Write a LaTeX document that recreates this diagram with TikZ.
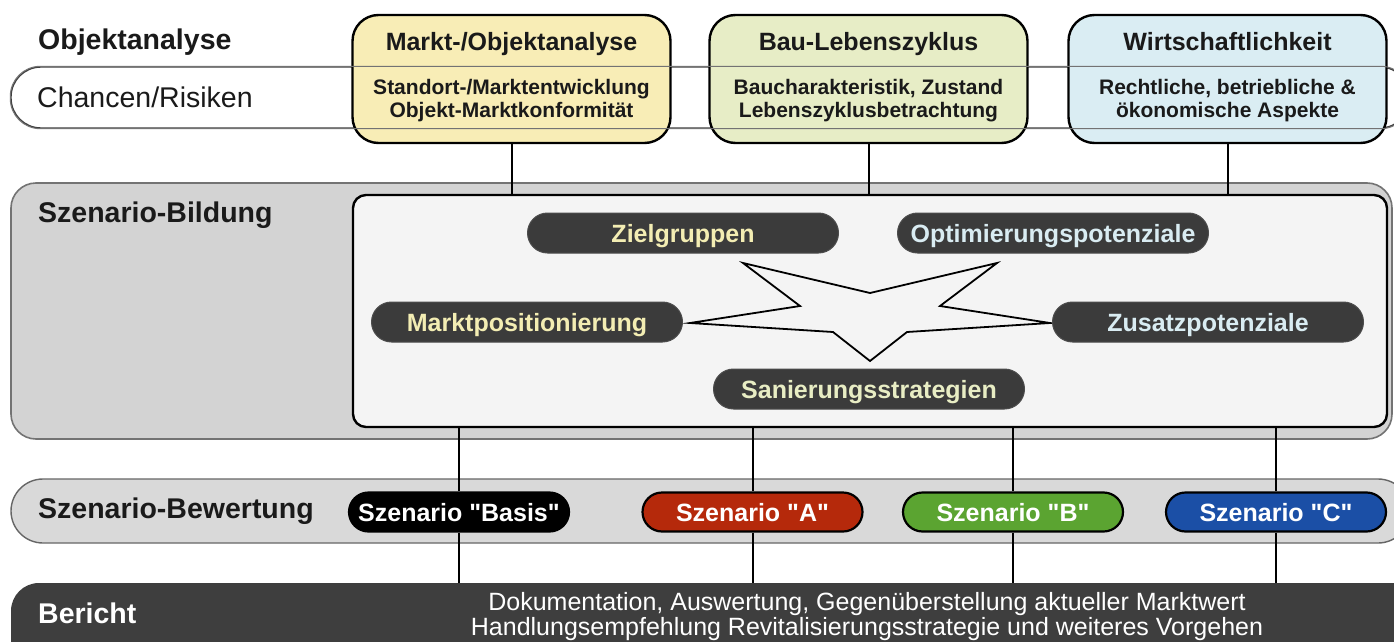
\documentclass[tikz,border=0pt]{standalone}
\usepackage{fontspec}
\setmainfont{Liberation Sans}
\usetikzlibrary{shapes.misc}
\definecolor{yfill}{HTML}{F8EDB6}
\definecolor{gfill}{HTML}{E7EDC6}
\definecolor{bfill}{HTML}{DAEDF3}
\definecolor{outergray}{HTML}{D3D3D3}
\definecolor{innerfill}{HTML}{F4F4F4}
\definecolor{pilldark}{HTML}{3B3B3B}
\definecolor{stripgray}{HTML}{D9D9D9}
\definecolor{berichtdark}{HTML}{3E3E3E}
\definecolor{scenred}{HTML}{B5290B}
\definecolor{scengreen}{HTML}{5BA431}
\definecolor{scenblue}{HTML}{1B4FA6}
\definecolor{txtyellow}{HTML}{F3EDB3}
\definecolor{txtblue}{HTML}{D9ECF2}
\definecolor{txtgreen}{HTML}{E8EDC4}
\definecolor{darktext}{HTML}{1A1A1A}
\begin{document}
\begin{tikzpicture}[x=1pt,y=-1pt,
  topbox/.style={draw=black, line width=2.4pt, rounded corners=26pt, minimum width=318pt, minimum height=128pt, inner sep=0pt},
  boxtitle/.style={anchor=base, inner sep=0pt, text=darktext, font=\fontsize{25}{28}\selectfont\bfseries},
  boxbody/.style={anchor=base, inner sep=0pt, text=darktext, font=\fontsize{21}{23}\selectfont\bfseries},
  sidelabel/.style={anchor=base west, inner sep=0pt, text=darktext, font=\fontsize{28.5}{30}\selectfont\bfseries},
  pill/.style={rounded rectangle, fill=pilldark, draw=black!70, line width=1pt, minimum width=311pt, minimum height=40pt, inner sep=0pt, text height=18pt, text depth=0pt, font=\fontsize{25}{28}\selectfont\bfseries},
  scen/.style={rounded rectangle, draw=black, line width=2.2pt, minimum width=220pt, minimum height=39pt, inner sep=0pt, text=white, text height=18pt, text depth=0pt, font=\fontsize{25}{28}\selectfont\bfseries},
  conn/.style={draw=black, line width=2pt},
  stripbox/.style={inner sep=0pt, minimum width=1399pt},
  bertext/.style={anchor=base, inner sep=0pt, text=white, font=\fontsize{25}{27}\selectfont},
]
\useasboundingbox (0,0) rectangle (1394,642);
\fill[white] (0,0) rectangle (1394,642);

% Chancen/Risiken strip
\node[stripbox, draw=black!75, fill=white, line width=1.4pt, rounded corners=30pt, minimum height=61pt] (chancen) at (710.5,97.5) {};
\node[sidelabel] (objlabel) at (38,50) {Objektanalyse};
\node[anchor=base west, inner sep=0pt, text=darktext, font=\fontsize{28.5}{30}\selectfont] (chlabel) at (37,107) {Chancen/Risiken};

% top boxes
\node[topbox, fill=yfill] (ybox) at (511.5,79) {};
\node[topbox, fill=gfill] (gbox) at (868.5,79) {};
\node[topbox, fill=bfill] (bbox) at (1227.5,79) {};
\draw[black!55, line width=1pt, rounded corners=30pt] (chancen.north west) rectangle (chancen.south east);

\node[boxtitle] (yt) at (511.5,51) {Markt-/Objektanalyse};
\node[boxbody] (yb1) at (511.5,94) {Standort-/Marktentwicklung};
\node[boxbody] (yb2) at (511.5,117) {Objekt-Marktkonformität};
\node[boxtitle] (gt) at (868.5,51) {Bau-Lebenszyklus};
\node[boxbody] (gb1) at (868.5,94) {Baucharakteristik, Zustand};
\node[boxbody] (gb2) at (868.5,117) {Lebenszyklusbetrachtung};
\node[boxtitle] (bt) at (1227.5,51) {Wirtschaftlichkeit};
\node[boxbody] (bb1) at (1227.5,94) {Rechtliche, betriebliche \&};
\node[boxbody] (bb2) at (1227.5,117) {ökonomische Aspekte};

% Szenario-Bildung
\node[draw=black!55, fill=outergray, line width=1.6pt, rounded corners=25pt, minimum width=1381pt, minimum height=256pt, inner sep=0pt] (bildung) at (701.5,311) {};
\node[sidelabel] (bildlabel) at (38,222) {Szenario-Bildung};
\node[draw=black, fill=innerfill, line width=2.4pt, rounded corners=13pt, minimum width=1034pt, minimum height=232pt, inner sep=0pt] (inner) at (870,311) {};

\draw[conn] (ybox.south) -- (ybox.south |- inner.north);
\draw[conn] (gbox.south) -- (gbox.south |- inner.north);
\draw[conn] (bbox.south) -- (bbox.south |- inner.north);

% star
\draw[black, line width=1.8pt, line join=miter, fill=innerfill]
  (743,263) -- (870,293) -- (997,263) -- (940,306) -- (1050,323) -- (907,332)
  -- (870,361) -- (833,332) -- (690,323) -- (800,306) -- cycle;

\node[pill, text=txtyellow] (ziel) at (683,233) {Zielgruppen};
\node[pill, text=txtblue] (opt) at (1053,233) {Optimierungspotenziale};
\node[pill, text=txtyellow] (mpos) at (527,322) {Marktpositionierung};
\node[pill, text=txtblue] (zus) at (1208,322) {Zusatzpotenziale};
\node[pill, text=txtgreen] (san) at (869,389) {Sanierungsstrategien};

% Szenario-Bewertung
\node[stripbox, draw=black!60, fill=stripgray, line width=1.4pt, rounded corners=32pt, minimum height=64pt] (bew) at (710.5,511) {};
\node[sidelabel] (bewlabel) at (38,518) {Szenario-Bewertung};

% Bericht
\node[fill=berichtdark, rounded corners=28pt, minimum width=1409pt, minimum height=97pt, inner sep=0pt] (bericht) at (715.5,631.5) {};
\node[sidelabel, text=white] (berlabel) at (38,623) {Bericht};
\node[bertext] (ber1) at (867,610) {Dokumentation, Auswertung, Gegenüberstellung aktueller Marktwert};
\node[bertext] (ber2) at (867,635) {Handlungsempfehlung Revitalisierungsstrategie und weiteres Vorgehen};

% scenario pills
\node[scen, fill=black] (basis) at (459,512) {Szenario \textquotedbl Basis\textquotedbl};
\node[scen, fill=scenred] (sa) at (752.5,512) {Szenario \textquotedbl A\textquotedbl};
\node[scen, fill=scengreen] (sb) at (1013,512) {Szenario \textquotedbl B\textquotedbl};
\node[scen, fill=scenblue] (sc) at (1276,512) {Szenario \textquotedbl C\textquotedbl};

\foreach \s in {basis,sa,sb,sc}{
  \draw[conn] (\s.north |- inner.south) -- (\s.north);
  \draw[conn] (\s.south) -- (\s.south |- bericht.north);
}
\end{tikzpicture}
\end{document}
